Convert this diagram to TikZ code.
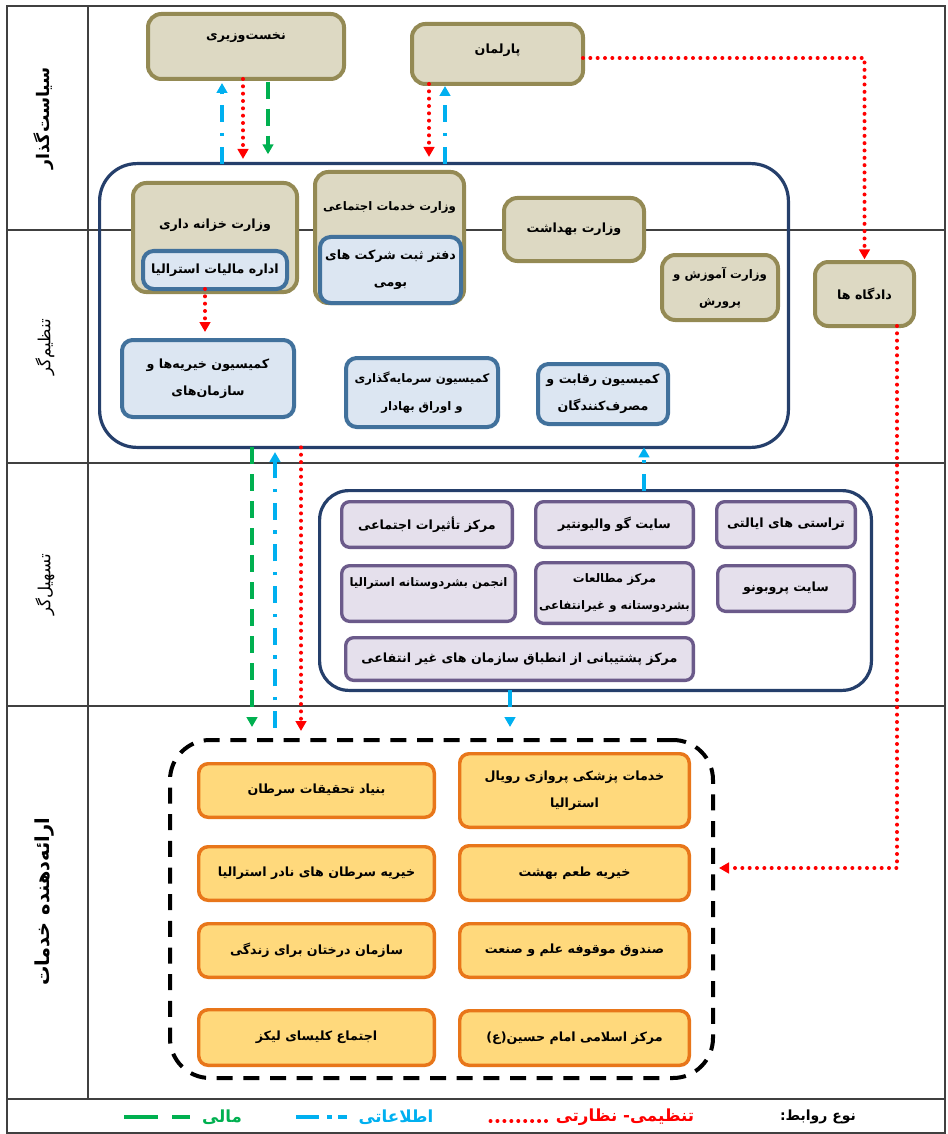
\documentclass[tikz,border=0pt]{standalone}
\usepackage{fontspec}
\newfontfamily\farsi[Script=Arabic]{DejaVu Sans}
\TeXXeTstate=1
\usetikzlibrary{arrows.meta}
\newcommand\fa[1]{\beginR #1\endR}
\definecolor{tanfill}{HTML}{DDD9C3}
\definecolor{tanline}{HTML}{948A54}
\definecolor{bluefill}{HTML}{DCE6F2}
\definecolor{blueline}{HTML}{41719C}
\definecolor{purpfill}{HTML}{E5E0EC}
\definecolor{purpline}{HTML}{6B5A8A}
\definecolor{orfill}{HTML}{FFD97C}
\definecolor{orline}{HTML}{E8761A}
\definecolor{navy}{HTML}{253F6B}
\definecolor{infoblue}{HTML}{00B0F0}
\definecolor{fingreen}{HTML}{00B050}
\definecolor{regred}{HTML}{FF0000}
\definecolor{framegray}{HTML}{404040}
\begin{document}
\begin{tikzpicture}[x=0.75pt,y=-0.75pt,
  every node/.style={inner sep=0pt,outer sep=0pt},
  fatxt/.style={font=\farsi\bfseries\fontsize{9.5}{20.5}\selectfont,align=center},
  smalltxt/.style={font=\farsi\bfseries\fontsize{8.8}{20.5}\selectfont},
  tanbox/.style={fatxt,draw=tanline,fill=tanfill,line width=3pt,rounded corners=10pt},
  bluebox/.style={fatxt,draw=blueline,fill=bluefill,line width=3pt,rounded corners=8pt},
  purpbox/.style={fatxt,draw=purpline,fill=purpfill,line width=2.5pt,rounded corners=6pt},
  orbox/.style={fatxt,draw=orline,fill=orfill,line width=2.6pt,rounded corners=7pt},
  navybox/.style={draw=navy,line width=2.4pt,rounded corners=28pt},
  dashbox/.style={draw=black,line width=3pt,dash pattern=on 12pt off 8pt,rounded corners=30pt},
  rowlabel/.style={font=\farsi\bfseries\fontsize{13}{16}\selectfont,rotate=90},
  rowlabelthin/.style={font=\farsi\fontsize{12.5}{15}\selectfont,rotate=90},
  frameline/.style={draw=framegray,line width=0.9pt},
  tipa/.style={-{Triangle[width=8pt,length=7.5pt]}},
  regl/.style={draw=regred,line width=3pt,line cap=round,dash pattern=on 0pt off 5.5pt,tipa},
  infol/.style={draw=infoblue,line width=2.4pt,dash pattern=on 12.75pt off 8pt on 2.5pt off 8pt,tipa},
  finl/.style={draw=fingreen,line width=2.4pt,dash pattern=on 12.75pt off 7.5pt,tipa},
  legtxt/.style={font=\farsi\bfseries\fontsize{10.5}{12}\selectfont},
  legcol/.style={font=\farsi\bfseries\fontsize{12.5}{14}\selectfont}
]
\useasboundingbox (0,0) rectangle (947,1134);
% frame and grid
\draw[frameline] (7,6) rectangle (945,1133);
\draw[frameline] (7,230) -- (945,230);
\draw[frameline] (7,463) -- (945,463);
\draw[frameline] (7,706) -- (945,706);
\draw[frameline] (7,1099) -- (945,1099);
\draw[frameline] (88,6) -- (88,1099);
% row labels
\node[rowlabel] (lab1) at (44,118) {\fa{سیاست‌گذار}};
\node[rowlabelthin] (lab2) at (45,347) {\fa{تنظیم‌گر}};
\node[rowlabelthin] (lab3) at (45,585) {\fa{تسهیل‌گر}};
\node[rowlabel,font=\farsi\bfseries\fontsize{14.5}{16}\selectfont] (lab4) at (45,902) {\fa{ارائه‌دهنده خدمات}};
% containers
\node[navybox,minimum width=516.6pt,minimum height=212.85pt] (reg) at (444,305.5) {};
\node[navybox,rounded corners=22pt,minimum width=413.85pt,minimum height=149.85pt] (fac) at (595.5,590.5) {};
\node[dashbox,minimum width=407.25pt,minimum height=253.5pt] (svc) at (441.5,909) {};
% policy makers
\node[tanbox,minimum width=147pt,minimum height=48.75pt] (pm) at (246,46.5) {};
\node[fatxt] (pm-t) at (246,38) {\fa{نخست‌وزیری}};
\node[tanbox,minimum width=128.25pt,minimum height=45pt] (parl) at (497.5,54) {};
\node[fatxt] (parl-t) at (497.5,50) {\fa{پارلمان}};
% regulators
\node[tanbox,minimum width=123pt,minimum height=81.75pt] (treas) at (215,237.5) {};
\node[fatxt] (treas-t) at (215,225) {\fa{وزارت خزانه داری}};
\node[tanbox,minimum width=111.75pt,minimum height=98.25pt] (social) at (389.5,237.5) {};
\node[fatxt,smalltxt] (social-t) at (389.5,207) {\fa{وزارت خدمات اجتماعی}};
\node[tanbox,minimum width=105pt,minimum height=47.25pt] (health) at (574,229.5) {\fa{وزارت بهداشت}};
\node[tanbox,smalltxt,minimum width=87pt,minimum height=48.75pt] (edu) at (720,287.5) {\fa{وزارت آموزش و}\\\fa{پرورش}};
\node[tanbox,minimum width=74.25pt,minimum height=48pt] (courts) at (864.5,294) {\fa{دادگاه ها}};
\node[bluebox,minimum width=108pt,minimum height=28.5pt] (tax) at (215,270) {\fa{اداره مالیات استرالیا}};
\node[bluebox,minimum width=105.75pt,minimum height=49.5pt] (regoff) at (390.5,270) {\fa{دفتر ثبت شرکت های}\\\fa{بومی}};
\node[bluebox,minimum width=129pt,minimum height=57.75pt] (charity) at (208,378.5) {\fa{کمیسیون خیریه‌ها و}\\\fa{سازمان‌های}};
\node[bluebox,smalltxt,minimum width=114pt,minimum height=51.75pt] (invest) at (422,392.5) {\fa{کمیسیون سرمایه‌گذاری}\\\fa{و اوراق بهادار}};
\node[bluebox,minimum width=97.5pt,minimum height=45pt] (compet) at (603,394) {\fa{کمیسیون رقابت و}\\\fa{مصرف‌کنندگان}};
% facilitators
\node[purpbox,minimum width=128pt,minimum height=34.25pt] (impact) at (427,524.5) {\fa{مرکز تأثیرات اجتماعی}};
\node[purpbox,minimum width=118.25pt,minimum height=34.25pt] (govol) at (614.5,524.5) {\fa{سایت گو والیونتیر}};
\node[purpbox,minimum width=104pt,minimum height=34.25pt] (trustee) at (786,524.5) {\fa{تراستی های ایالتی}};
\node[purpbox,minimum width=130.25pt,minimum height=41.75pt] (phil) at (428.5,593.5) {};
\node[fatxt,smalltxt] (phil-t) at (428.5,583) {\fa{انجمن بشردوستانه استرالیا}};
\node[purpbox,font=\farsi\bfseries\fontsize{8.8}{20.5}\selectfont,minimum width=118.25pt,minimum height=45.5pt] (study) at (614.5,593) {\fa{مرکز مطالعات}\\\fa{بشردوستانه و غیرانتفاعی}};
\node[purpbox,minimum width=102.5pt,minimum height=34.25pt] (probono) at (786,588.5) {\fa{سایت پروبونو}};
\node[purpbox,minimum width=260.75pt,minimum height=32pt] (support) at (519.5,659) {\fa{مرکز پشتیبانی از انطباق سازمان های غیر انتفاعی}};
% service providers
\node[orbox,minimum width=176.65pt,minimum height=40.15pt] (cancer) at (316.5,790.5) {\fa{بنیاد تحقیقات سرطان}};
\node[orbox,minimum width=172.15pt,minimum height=55.15pt] (flying) at (574.5,790.5) {\fa{خدمات پزشکی پروازی رویال}\\\fa{استرالیا}};
\node[orbox,minimum width=176.65pt,minimum height=40.15pt] (rare) at (316.5,873.5) {\fa{خیریه سرطان های نادر استرالیا}};
\node[orbox,minimum width=172.15pt,minimum height=40.9pt] (taste) at (574.5,873) {\fa{خیریه طعم بهشت}};
\node[orbox,minimum width=176.65pt,minimum height=40.15pt] (trees) at (316.5,950.5) {\fa{سازمان درختان برای زندگی}};
\node[orbox,minimum width=172.15pt,minimum height=40.15pt] (endow) at (574.5,950.5) {\fa{صندوق موقوفه علم و صنعت}};
\node[orbox,minimum width=176.65pt,minimum height=41.65pt] (church) at (316.5,1037.5) {\fa{اجتماع کلیسای لیکز}};
\node[orbox,minimum width=172.15pt,minimum height=40.9pt] (imam) at (574.5,1038) {\fa{مرکز اسلامی امام حسین(ع)}};
% helper coordinates
\coordinate (xa) at (222,0);
\coordinate (xb) at (243,0);
\coordinate (xc) at (268,0);
\coordinate (xd) at (429,0);
\coordinate (xe) at (445,0);
\coordinate (xf) at (205,0);
\coordinate (xg) at (644,0);
\coordinate (xh) at (252,0);
\coordinate (xi) at (275,0);
\coordinate (xj) at (301,0);
\coordinate (xk) at (510,0);
\coordinate (turn) at (897,868);
% connectors
\draw[infol,shorten >=3pt] (reg.north -| xa) -- (pm.south -| xa);
\draw[regl,shorten >=3.5pt] (pm.south -| xb) -- (reg.north -| xb);
\draw[finl,shorten <=2pt,shorten >=7pt] (pm.south -| xc) -- (reg.north -| xc);
\draw[regl,shorten >=5pt] (parl.south -| xd) -- (reg.north -| xd);
\draw[infol,shorten >=1.5pt] (reg.north -| xe) -- (parl.south -| xe);
\draw[regl,shorten >=2pt] ([yshift=-3pt]parl.east) -| (courts.north);
\draw[regl,shorten >=4.5pt] (courts.south -| turn) -- (turn) -- (svc.east |- turn);
\draw[regl,shorten >=6pt] (tax.south -| xf) -- (charity.north -| xf);
\draw[infol] (fac.north -| xg) -- (reg.south -| xg);
\draw[finl,shorten >=9.75pt] (reg.south -| xh) -- (svc.north -| xh);
\draw[infol,shorten <=9pt,shorten >=3.5pt] (svc.north -| xi) -- (reg.south -| xi);
\draw[regl,shorten >=6.75pt] (reg.south -| xj) -- (svc.north -| xj);
\draw[infol,shorten >=9.75pt] (fac.south -| xk) -- (svc.north -| xk);
% legend
\node[legtxt] (leg-title) at (818,1117) {\fa{نوع روابط:}};
\node[legcol,text=regred] (leg-reg) at (625,1117) {\fa{تنظیمی- نظارتی}};
\node[legcol,text=infoblue] (leg-info) at (396,1117) {\fa{اطلاعاتی}};
\node[legcol,text=fingreen] (leg-fin) at (222,1117) {\fa{مالی}};
\coordinate (lr1) at (546,1121);
\coordinate (lr2) at (489,1121);
\coordinate (li1) at (296,1117);
\coordinate (li2) at (347,1117);
\coordinate (lf1) at (124,1117);
\coordinate (lf2) at (190,1117);
\draw[draw=regred,line width=3pt,line cap=round,dash pattern=on 0pt off 5.2pt] (lr1) -- (lr2);
\draw[draw=infoblue,line width=3pt,dash pattern=on 17.25pt off 6pt on 3.75pt off 4.5pt] (li1) -- (li2);
\draw[draw=fingreen,line width=3pt,dash pattern=on 25.5pt off 10.5pt] (lf1) -- (lf2);
\end{tikzpicture}
\end{document}
